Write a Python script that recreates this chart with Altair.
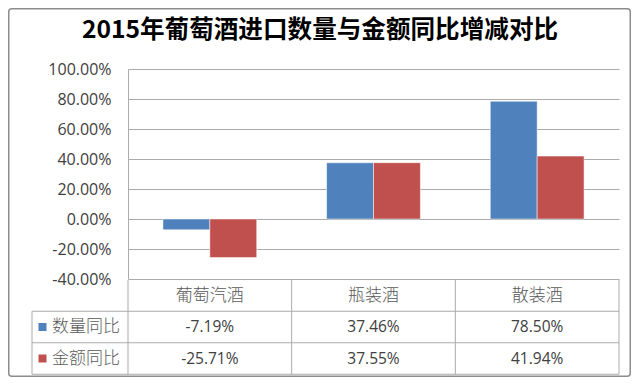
import altair as alt
import pandas as pd

title_text = "2015年葡萄酒进口数量与金额同比增减对比"
cats = ["葡萄汽酒", "瓶装酒", "散装酒"]
series = ["数量同比", "金额同比"]
qty = [-7.19, 37.46, 78.50]
amt = [-25.71, 37.55, 41.94]
colors = ["#4F81BD", "#C0504D"]
y_ticks = [-40, -20, 0, 20, 40, 60, 80, 100]

W, H = 491, 210
GRID = "#ABABAB"
CJK = "Noto Sans CJK SC"
LAT = "Open Sans"

bars_df = pd.DataFrame(
    [{"cat": c, "series": series[0], "value": v} for c, v in zip(cats, qty)]
    + [{"cat": c, "series": series[1], "value": v} for c, v in zip(cats, amt)]
)
header_df = pd.DataFrame({"cat": cats, "row": [0] * len(cats)})
vals_df = pd.DataFrame(
    [{"cat": c, "row": 1, "label": f"{v:.2f}%"} for c, v in zip(cats, qty)]
    + [{"cat": c, "row": 2, "label": f"{v:.2f}%"} for c, v in zip(cats, amt)]
)
legend_df = pd.DataFrame({"series": series, "row": [1, 2]})

x_scale = alt.Scale(domain=cats, paddingInner=0.427, paddingOuter=0.2135)
row_scale = alt.Scale(domain=[0, 2], range=[226.5, 289.5], zero=False, nice=False)
color_scale = alt.Scale(domain=series, range=colors)

bars = alt.Chart(bars_df).mark_bar(stroke="white", strokeWidth=0.5).encode(
    x=alt.X("cat:N", sort=cats, scale=x_scale, axis=None),
    xOffset=alt.XOffset("series:N", sort=series),
    y=alt.Y(
        "value:Q",
        scale=alt.Scale(domain=[-40, 100], nice=False),
        axis=alt.Axis(
            values=y_ticks,
            labelExpr="datum.value + '.00%'",
            title=None,
            ticks=False,
            labelPadding=17,
            labelFont=LAT,
            labelFontSize=16,
            labelColor="#404040",
            grid=True,
            gridColor=GRID,
            domainColor=GRID,
        ),
    ),
    color=alt.Color("series:N", scale=color_scale, legend=None),
)

# table horizontal lines at row boundaries
hlines_df = pd.DataFrame({"b": [0.5, 1.5, 2.5]})
hlines = alt.Chart(hlines_df).mark_rule(color=GRID, strokeWidth=1).encode(
    y=alt.Y("b:Q", scale=row_scale, axis=None),
    x=alt.value(-96),
    x2=alt.value(W),
)
vline_layers = []
for k in range(4):
    vline_layers.append(
        alt.Chart(pd.DataFrame({"a": [-0.5], "b": [2.5]})).mark_rule(color=GRID, strokeWidth=1).encode(
            x=alt.value(k * W / 3),
            y=alt.Y("a:Q", scale=row_scale, axis=None),
            y2="b:Q",
        )
    )
vline_left = alt.Chart(pd.DataFrame({"a": [0.5], "b": [2.5]})).mark_rule(color=GRID, strokeWidth=1).encode(
    x=alt.value(-96),
    y=alt.Y("a:Q", scale=row_scale, axis=None),
    y2="b:Q",
)

header = alt.Chart(header_df).mark_text(font=CJK, fontSize=17, color="#595959", fontWeight=300).encode(
    x=alt.X("cat:N", sort=cats, scale=x_scale, axis=None),
    y=alt.Y("row:Q", scale=row_scale, axis=None),
    text="cat:N",
)
values = alt.Chart(vals_df).mark_text(font=LAT, fontSize=15.5, color="#404040").encode(
    x=alt.X("cat:N", sort=cats, scale=x_scale, axis=None),
    y=alt.Y("row:Q", scale=row_scale, axis=None),
    text="label:N",
)
swatch = alt.Chart(legend_df).mark_square(size=64, opacity=1).encode(
    x=alt.value(-85.5),
    y=alt.Y("row:Q", scale=row_scale, axis=None),
    color=alt.Color("series:N", scale=color_scale, legend=None),
)
legend_txt = alt.Chart(legend_df).mark_text(font=CJK, fontSize=17, color="#595959", fontWeight=300, align="left").encode(
    x=alt.value(-76),
    y=alt.Y("row:Q", scale=row_scale, axis=None),
    text="series:N",
)

title = alt.Chart(pd.DataFrame({"t": [title_text]})).mark_text(
    font=CJK, fontSize=24.6, fontWeight="bold", color="#000000", baseline="middle"
).encode(x=alt.value(192), y=alt.value(-38), text="t:N")

border = alt.Chart(pd.DataFrame({"t": [0]})).mark_rect(
    fill=None, stroke="#8C8C8C", strokeWidth=1.5, cornerRadius=3
).encode(x=alt.value(-119.25), x2=alt.value(502.25), y=alt.value(-60.25), y2=alt.value(307.25))

chart = (
    alt.layer(bars, hlines, *vline_layers, vline_left, header, values, swatch, legend_txt, title, border)
    .resolve_scale(y="independent")
    .properties(
        width=W,
        height=H,
        autosize="none",
        padding={"left": 120, "top": 61, "right": 13, "bottom": 98},
    )
    .configure_view(stroke=None)
)

chart.save("out.html", embed_options={"renderer": "svg", "actions": False})
